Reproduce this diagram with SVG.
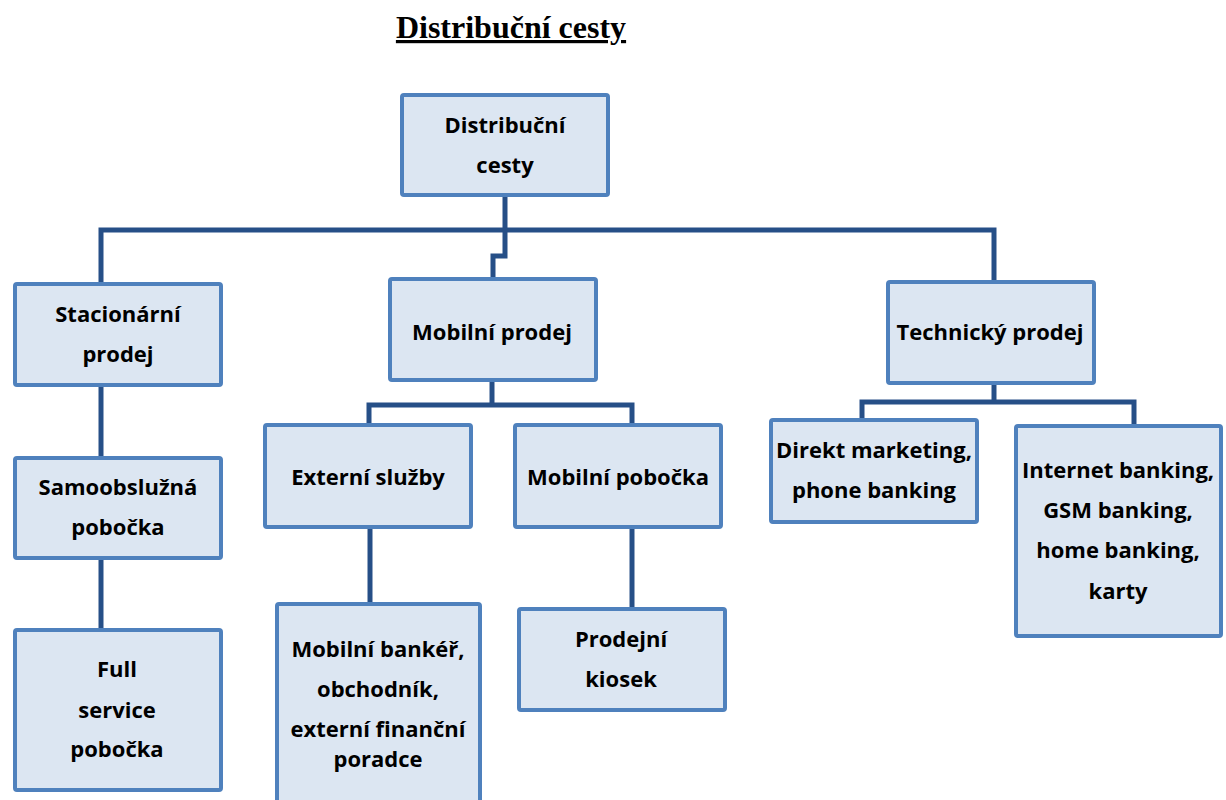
<svg xmlns="http://www.w3.org/2000/svg" width="1226" height="800" viewBox="0 0 1226 800">
<style>
.box{fill:#DCE6F2;stroke:#4F81BD;stroke-width:4}
.lbl{font-family:"Open Sans","Noto Sans",sans-serif;font-weight:bold;font-size:22px;fill:#000;text-anchor:middle}
.con{fill:none;stroke:#264F87;stroke-width:5;stroke-linejoin:miter}
.title{font-family:"Liberation Serif","Times New Roman",serif;font-weight:bold;font-size:32px;text-anchor:middle;text-decoration:underline}
</style>
<rect width="1226" height="800" fill="#fff"/>
<text class="title" x="511" y="38">Distribuční cesty</text>
<g id="connectors">
<path class="con" d="M505 197 V256 H493 V279"/>
<path class="con" d="M101 284 V230 H994 V282"/>
<path class="con" d="M101 387 V458"/>
<path class="con" d="M101 560 V630"/>
<path class="con" d="M492 382 V405"/>
<path class="con" d="M369 425 V405 H632 V425"/>
<path class="con" d="M370 529 V610"/>
<path class="con" d="M632 529 V609"/>
<path class="con" d="M994 385 V402"/>
<path class="con" d="M862 426 V402 H1134 V426"/>
</g>
<g id="root"><rect class="box" x="402" y="95" width="206" height="100" rx="2"/>
<text class="lbl" x="505" y="133">Distribuční</text><text class="lbl" x="505" y="173">cesty</text></g>
<g id="stacionarni"><rect class="box" x="15" y="284" width="206" height="101" rx="2"/>
<text class="lbl" x="118" y="322">Stacionární</text><text class="lbl" x="118" y="362">prodej</text></g>
<g id="mobilni-prodej"><rect class="box" x="390" y="279" width="206" height="101" rx="2"/>
<text class="lbl" x="492" y="340">Mobilní prodej</text></g>
<g id="technicky"><rect class="box" x="888" y="282" width="206" height="101" rx="2"/>
<text class="lbl" x="990" y="340">Technický prodej</text></g>
<g id="samoobsluzna"><rect class="box" x="15" y="458" width="206" height="100" rx="2"/>
<text class="lbl" x="118" y="495">Samoobslužná</text><text class="lbl" x="118" y="535">pobočka</text></g>
<g id="externi"><rect class="box" x="265" y="425" width="206" height="102" rx="2"/>
<text class="lbl" x="368" y="485">Externí služby</text></g>
<g id="mobilni-pobocka"><rect class="box" x="515" y="425" width="206" height="102" rx="2"/>
<text class="lbl" x="618" y="485">Mobilní pobočka</text></g>
<g id="direkt"><rect class="box" x="771" y="420" width="206" height="102" rx="2"/>
<text class="lbl" x="874" y="458">Direkt marketing,</text><text class="lbl" x="874" y="498">phone banking</text></g>
<g id="internet"><rect class="box" x="1016" y="426" width="205" height="210" rx="2"/>
<text class="lbl" x="1118" y="478">Internet banking,</text><text class="lbl" x="1118" y="518">GSM banking,</text><text class="lbl" x="1118" y="558">home banking,</text><text class="lbl" x="1118" y="599">karty</text></g>
<g id="full"><rect class="box" x="15" y="630" width="206" height="160" rx="2"/>
<text class="lbl" x="117" y="677">Full</text><text class="lbl" x="117" y="718">service</text><text class="lbl" x="117" y="757">pobočka</text></g>
<g id="banker"><rect class="box" x="277" y="604" width="203" height="210" rx="2"/>
<text class="lbl" x="378" y="657">Mobilní bankéř,</text><text class="lbl" x="378" y="697">obchodník,</text><text class="lbl" x="378" y="737">externí finanční</text><text class="lbl" x="378" y="767">poradce</text></g>
<g id="kiosek"><rect class="box" x="519" y="609" width="206" height="101" rx="2"/>
<text class="lbl" x="621" y="647">Prodejní</text><text class="lbl" x="621" y="687">kiosek</text></g>
</svg>
